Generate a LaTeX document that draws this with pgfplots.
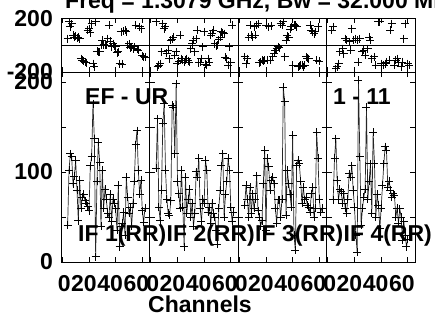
\documentclass[border=0pt]{standalone}
\usepackage{pgfplots}
\pgfplotsset{compat=1.18}
\usepackage{fontspec}
\setmainfont{Liberation Sans}
\newcommand\bigbf{\fontsize{23}{25}\selectfont\bfseries}

\pgfplotsset{
  panel/.style={
    scale only axis, anchor=south west, width=88.5pt,
    xmin=-1, xmax=65.4,
    xtick={0,20,40,60},
    tick align=inside,
    major tick length=5pt, minor tick length=5pt,
    axis line style={line width=0.8pt},
    tick style={line width=0.8pt, black},
    ticklabel style={font=\bigbf, inner sep=0pt},
    yticklabel style={xshift=-8pt},
    xticklabel style={yshift=-13pt},
  },
  amp/.style={panel, height=190pt, ymin=0, ymax=211,
    ytick={0,100,200}, minor ytick={50,150},
    xticklabels={\hspace*{4pt}0,\hspace*{-10pt}20,\hspace*{-11pt}40,\hspace*{-12pt}60}},
  pha/.style={panel, height=53.5pt, ymin=-200, ymax=200,
    ytick={-200,200}, xticklabels={},
    extra y ticks={0}, extra y tick labels={},
    extra y tick style={grid=major, major grid style={black, line width=0.8pt}}},
  ampline/.style={black!85, line width=0.7pt, mark=+, mark size=4pt,
    mark options={black, line width=0.9pt}},
  phamark/.style={only marks, mark=+, mark size=4pt,
    mark options={black, line width=0.9pt}},
}

\begin{document}
\begin{tikzpicture}
% ---------- amplitude panels ----------
\begin{axis}[amp, at={(61pt,58pt)}, yticklabels={0,100,200}]
\addplot[ampline] coordinates {
(4,41) (5,102) (6,120) (7,117) (8,87) (9,95) (10,113) (11,80) (12,46) (13,91)
(14,60) (15,72) (16,75) (17,68) (18,65) (19,62) (20,57) (21,107) (22,117) (23,176)
(24,137) (25,6) (26,90) (27,133) (28,111) (29,40) (30,102) (31,60) (32,81) (33,70)
(34,54) (35,50) (36,75) (37,45) (38,70) (39,65) (40,59) (41,35) (42,85) (43,17)
(44,39) (45,43) (46,55) (47,30) (48,94) (49,72) (50,54) (51,61) (52,40) (53,65)
(54,90) (55,130) (56,146) (57,102) (58,75) (59,91) (60,57) (61,44) (62,60)};
\end{axis}
\begin{axis}[amp, at={(149.5pt,58pt)}, yticklabels={}]
\addplot[ampline] coordinates {
(4,104) (5,159) (6,61) (7,46) (8,80) (9,154) (10,176) (11,102) (12,70) (13,54)
(14,52) (15,68) (16,174) (17,172) (18,120) (19,198) (20,89) (21,76) (22,60) (23,102)
(24,61) (25,17) (26,94) (27,54) (28,70) (29,81) (30,50) (31,65) (32,40) (33,54)
(34,100) (35,94) (36,115) (37,60) (38,45) (39,70) (40,65) (41,113) (42,102) (43,55)
(44,61) (45,43) (46,65) (47,54) (48,50) (49,35) (50,20) (51,60) (52,80) (53,107)
(54,120) (55,50) (56,75) (57,90) (58,115) (59,102) (60,61) (61,45) (62,55)};
\end{axis}
\begin{axis}[amp, at={(238pt,58pt)}, yticklabels={}]
\addplot[ampline] coordinates {
(4,63) (5,85) (6,70) (7,50) (8,83) (9,54) (10,76) (11,60) (12,70) (13,96)
(14,57) (15,50) (16,40) (17,46) (18,87) (19,124) (20,35) (21,115) (22,106) (23,80)
(24,91) (25,94) (26,87) (27,60) (28,43) (29,69) (30,69) (31,50) (32,70) (33,194)
(34,178) (35,52) (36,102) (37,87) (38,75) (39,61) (40,141) (41,30) (42,13) (43,107)
(44,113) (45,109) (46,90) (47,65) (48,83) (49,69) (50,72) (51,63) (52,61) (53,55)
(54,76) (55,83) (56,50) (57,60) (58,144) (59,115) (60,70) (61,55) (62,60)};
\end{axis}
\begin{axis}[amp, at={(326.5pt,58pt)}, yticklabels={}]
\addplot[ampline] coordinates {
(4,69) (5,115) (6,137) (7,91) (8,69) (9,81) (10,78) (11,65) (12,76) (13,60)
(14,54) (15,70) (16,98) (17,94) (18,107) (19,80) (20,61) (21,30) (22,11) (23,202)
(24,117) (25,41) (26,60) (27,72) (28,81) (29,172) (30,70) (31,90) (32,109) (33,54)
(34,144) (35,109) (36,50) (37,75) (38,63) (39,37) (40,60) (41,85) (42,109) (43,128)
(44,124) (45,83) (46,90) (47,80) (48,72) (49,76) (50,74) (51,50) (52,60) (53,43)
(54,59) (55,50) (56,24) (57,45) (58,30) (59,17) (60,25)};
\end{axis}
% ---------- phase panels ----------
\begin{axis}[pha, at={(61pt,248pt)}, yticklabels={-200,200}]
\addplot[phamark] coordinates {
(4,50) (5,175) (6,137) (7,160) (8,75) (9,62) (10,70) (11,55) (12,62) (13,50)
(14,-100) (15,-112) (16,-120) (17,-125) (18,-130) (19,112) (20,125) (21,95) (22,162) (23,-137)
(24,-162) (25,175) (26,-45) (27,-50) (28,-50) (29,0) (30,37) (31,5) (32,0) (33,0)
(34,50) (35,150) (36,30) (37,-12) (38,12) (39,-5) (40,-12) (41,-55) (42,-50) (43,-137)
(44,100) (45,-140) (46,105) (47,112) (48,100) (49,0) (50,10) (51,-20) (52,-12) (53,-25)
(54,-12) (55,150) (56,-30) (57,-37) (58,137) (59,125) (60,-80) (61,-87) (62,-90)};
\end{axis}
\begin{axis}[pha, at={(149.5pt,248pt)}, yticklabels={}]
\addplot[phamark] coordinates {
(4,175) (5,-162) (6,-150) (7,-137) (8,-50) (9,162) (10,125) (11,140) (12,-60) (13,-37)
(14,-100) (15,37) (16,45) (17,62) (18,-75) (19,-50) (20,-137) (21,-120) (22,75) (23,-100)
(24,-112) (25,-125) (26,-110) (27,-100) (28,-115) (29,-125) (30,-25) (31,10) (32,37) (33,-50)
(34,50) (35,112) (36,-130) (37,-125) (38,-100) (39,-12) (40,100) (41,-140) (42,-150) (43,-100)
(44,-125) (45,75) (46,90) (47,112) (48,12) (49,-5) (50,0) (51,40) (52,62) (53,100)
(54,95) (55,87) (56,-90) (57,-100) (58,-150) (59,-12) (60,-130) (61,150)};
\end{axis}
\begin{axis}[pha, at={(238pt,248pt)}, yticklabels={}]
\addplot[phamark] coordinates {
(4,-87) (5,-137) (6,-100) (7,62) (8,150) (9,75) (10,62) (11,140) (12,75) (13,150)
(14,162) (15,-130) (16,-125) (17,-112) (18,-120) (19,-112) (20,150) (21,-110) (22,137) (23,-112)
(24,145) (25,-87) (26,-60) (27,-37) (28,-25) (29,-12) (30,-20) (31,160) (32,150) (33,175)
(34,-87) (35,37) (36,70) (37,62) (38,120) (39,137) (40,-150) (41,155) (42,150) (43,137)
(44,-162) (45,-155) (46,-150) (47,-150) (48,-162) (49,-150) (50,-87) (51,-95) (52,-100) (53,150)
(54,112) (55,100) (56,87) (57,100) (58,-112) (59,137) (60,-120)};
\end{axis}
\begin{axis}[pha, at={(326.5pt,248pt)}, yticklabels={}]
\addplot[phamark] coordinates {
(3,112) (4,137) (6,-175) (7,-162) (8,-137) (9,-50) (11,-25) (12,-62) (13,50) (14,37)
(16,25) (17,-37) (18,125) (19,37) (21,50) (22,37) (23,-125) (24,50) (26,-50) (27,-37)
(28,-75) (30,-25) (31,62) (32,37) (33,-100) (35,-87) (36,-150) (38,175) (39,175) (40,-137)
(42,-150) (43,-137) (44,-125) (46,-112) (47,112) (48,162) (50,-150) (51,-112) (52,-100) (53,-125)
(55,-162) (56,-125) (57,50) (58,162) (60,-137) (61,-150)};
\end{axis}
% ---------- texts ----------
\begin{scope}[every node/.style={font=\bigbf, inner sep=0pt, anchor=base west}]
\node at (65pt,311pt) {Freq = 1.3079 GHz, Bw = 32.000 MHz};
\node at (85pt,215pt) {EF - UR};
\node at (333pt,215pt) {1 - 11};
\node at (78pt,78pt) {IF 1(RR)};
\node at (166.5pt,78pt) {IF 2(RR)};
\node at (255pt,78pt) {IF 3(RR)};
\node at (343.5pt,78pt) {IF 4(RR)};
\node at (148pt,7pt) {Channels};
\end{scope}
\pgfresetboundingbox
\path[use as bounding box] (0pt,0pt) rectangle (435pt,320pt);
\end{tikzpicture}
\end{document}
